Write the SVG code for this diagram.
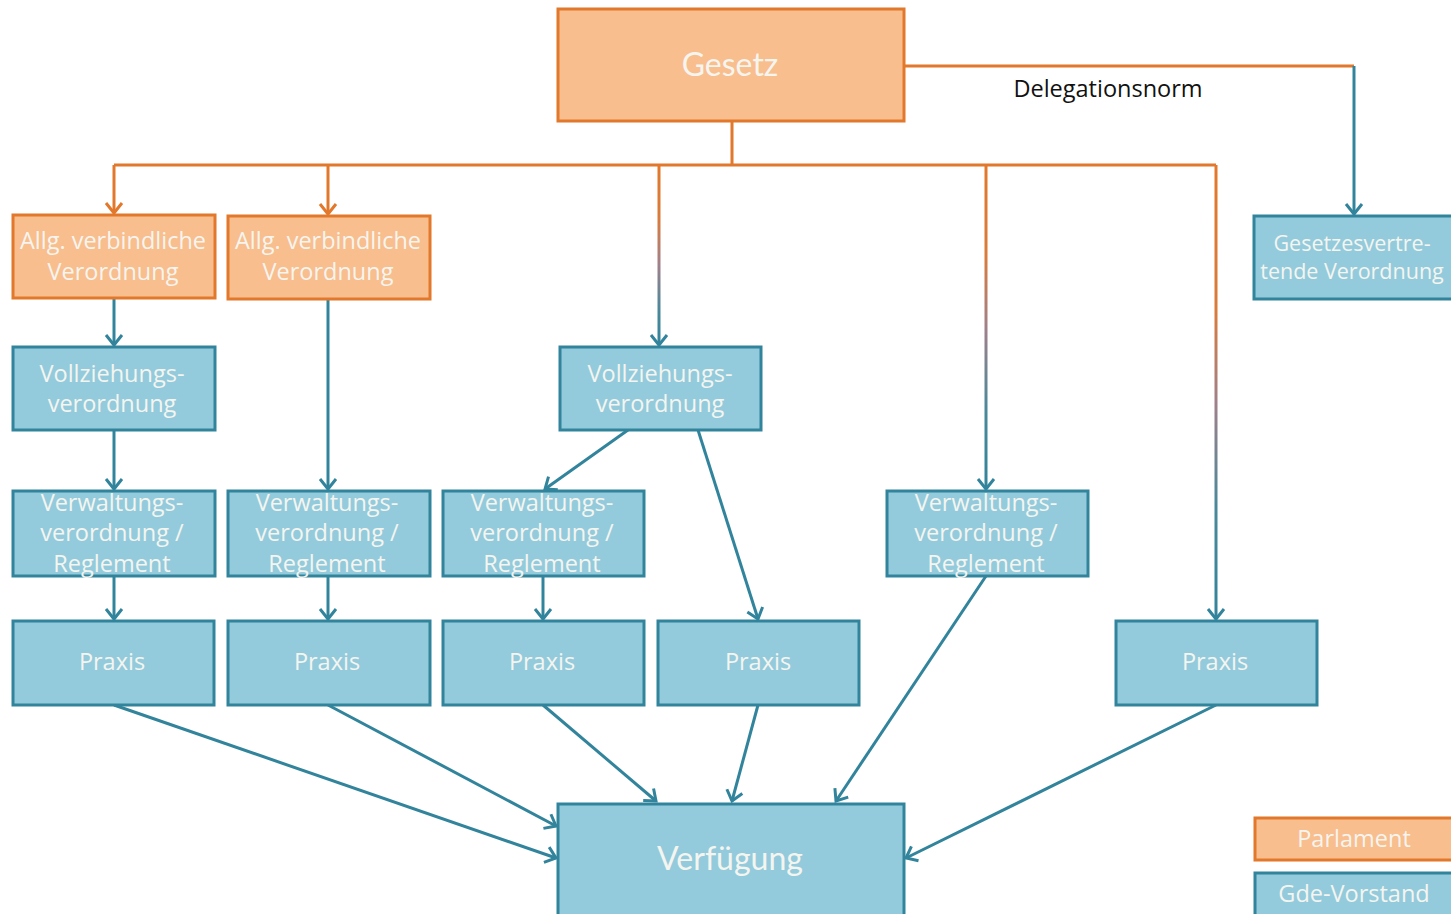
<svg xmlns="http://www.w3.org/2000/svg" width="1451" height="914" viewBox="0 0 1451 914">
<defs>
<style>
.o{fill:#F9BE8D;stroke:#E2782B;stroke-width:3}
.b{fill:#93CBDC;stroke:#31849B;stroke-width:3}
.t{font-family:"Open Sans",Lato,sans-serif;font-size:23.5px;fill:#F5F5F0;text-anchor:middle}
.big{font-family:Lato,"Open Sans",sans-serif;font-size:32px}
.sm{font-size:21.5px}
.lo{fill:none;stroke:#E2782B;stroke-width:3}
.lb{fill:none;stroke:#31849B;stroke-width:3}
</style>
<marker id="ao" markerUnits="userSpaceOnUse" markerWidth="24" markerHeight="24" viewBox="-12 -12 24 24" refX="0" refY="0" orient="auto">
<path d="M-10,-8 L0,0 L-10,8" fill="none" stroke="#E2782B" stroke-width="3"/>
</marker>
<marker id="ab" markerUnits="userSpaceOnUse" markerWidth="24" markerHeight="24" viewBox="-12 -12 24 24" refX="0" refY="0" orient="auto">
<path d="M-10,-8 L0,0 L-10,8" fill="none" stroke="#31849B" stroke-width="3"/>
</marker>
<linearGradient id="g1" gradientUnits="userSpaceOnUse" x1="0" y1="165" x2="0" y2="346">
<stop offset="0" stop-color="#E2782B"/><stop offset="0.3" stop-color="#D97B3C"/><stop offset="0.55" stop-color="#A0808A"/><stop offset="0.8" stop-color="#4A889A"/><stop offset="1" stop-color="#31849B"/>
</linearGradient>
<linearGradient id="g2" gradientUnits="userSpaceOnUse" x1="0" y1="165" x2="0" y2="491">
<stop offset="0" stop-color="#E2782B"/><stop offset="0.28" stop-color="#D97B3C"/><stop offset="0.5" stop-color="#A0808A"/><stop offset="0.75" stop-color="#4A889A"/><stop offset="1" stop-color="#31849B"/>
</linearGradient>
<linearGradient id="g3" gradientUnits="userSpaceOnUse" x1="0" y1="165" x2="0" y2="621">
<stop offset="0" stop-color="#E2782B"/><stop offset="0.32" stop-color="#D97B3C"/><stop offset="0.52" stop-color="#A0808A"/><stop offset="0.75" stop-color="#4A889A"/><stop offset="1" stop-color="#31849B"/>
</linearGradient>
</defs>
<rect width="1451" height="914" fill="#FFFFFF"/>

<g id="connectors">
<path class="lo" d="M732,121 V165 M114,165 H1216"/>
<path class="lo" d="M114,165 V213" marker-end="url(#ao)"/>
<path class="lo" d="M328,165 V214" marker-end="url(#ao)"/>
<path class="lo" d="M904,66 H1354"/>
<path class="lb" d="M1354,66 V214" marker-end="url(#ab)"/>
<path fill="none" stroke="url(#g1)" stroke-width="3" d="M659,165 V345" marker-end="url(#ab)"/>
<path fill="none" stroke="url(#g2)" stroke-width="3" d="M986,165 V489" marker-end="url(#ab)"/>
<path fill="none" stroke="url(#g3)" stroke-width="3" d="M1216,165 V619" marker-end="url(#ab)"/>
<path class="lb" d="M114,298 V345" marker-end="url(#ab)"/>
<path class="lb" d="M114,430 V489" marker-end="url(#ab)"/>
<path class="lb" d="M328,299 V489" marker-end="url(#ab)"/>
<path class="lb" d="M628,430 L545,489" marker-end="url(#ab)"/>
<path class="lb" d="M698,430 L758,619" marker-end="url(#ab)"/>
<path class="lb" d="M114,576 V619" marker-end="url(#ab)"/>
<path class="lb" d="M328,576 V619" marker-end="url(#ab)"/>
<path class="lb" d="M543,576 V619" marker-end="url(#ab)"/>
<path class="lb" d="M986,576 L836,801" marker-end="url(#ab)"/>
<path class="lb" d="M114,705 L556,858" marker-end="url(#ab)"/>
<path class="lb" d="M328,705 L556,826" marker-end="url(#ab)"/>
<path class="lb" d="M543,705 L656,801" marker-end="url(#ab)"/>
<path class="lb" d="M758,705 L732,801" marker-end="url(#ab)"/>
<path class="lb" d="M1216,705 L906,858" marker-end="url(#ab)"/>
</g>

<g id="gesetz"><rect class="o" x="558" y="9" width="346" height="112"/><text class="t big" x="730" y="76">Gesetz</text></g>
<g id="delegationsnorm"><text x="1108" y="97" font-family="'Open Sans',Lato,sans-serif" font-size="23.5" fill="#111" text-anchor="middle">Delegationsnorm</text></g>

<g id="allg1"><rect class="o" x="13" y="215" width="202" height="83"/><text class="t" x="113" y="249">Allg. verbindliche</text><text class="t" x="113" y="280">Verordnung</text></g>
<g id="allg2"><rect class="o" x="228" y="216" width="202" height="83"/><text class="t" x="328" y="249">Allg. verbindliche</text><text class="t" x="328" y="280">Verordnung</text></g>
<g id="gesetzesvertretende"><rect class="b" x="1254" y="216" width="200" height="83"/><text class="t sm" x="1352" y="251">Gesetzesvertre-</text><text class="t sm" x="1352" y="279">tende Verordnung</text></g>

<g id="vollz1"><rect class="b" x="13" y="347" width="202" height="83"/><text class="t" x="112" y="382">Vollziehungs-</text><text class="t" x="112" y="412">verordnung</text></g>
<g id="vollz2"><rect class="b" x="560" y="347" width="201" height="83"/><text class="t" x="660" y="382">Vollziehungs-</text><text class="t" x="660" y="412">verordnung</text></g>

<g id="verw1"><rect class="b" x="13" y="491" width="202" height="85"/><text class="t" x="112" y="511">Verwaltungs-</text><text class="t" x="112" y="541">verordnung /</text><text class="t" x="112" y="572">Reglement</text></g>
<g id="verw2"><rect class="b" x="228" y="491" width="202" height="85"/><text class="t" x="327" y="511">Verwaltungs-</text><text class="t" x="327" y="541">verordnung /</text><text class="t" x="327" y="572">Reglement</text></g>
<g id="verw3"><rect class="b" x="443" y="491" width="201" height="85"/><text class="t" x="542" y="511">Verwaltungs-</text><text class="t" x="542" y="541">verordnung /</text><text class="t" x="542" y="572">Reglement</text></g>
<g id="verw4"><rect class="b" x="887" y="491" width="201" height="85"/><text class="t" x="986" y="511">Verwaltungs-</text><text class="t" x="986" y="541">verordnung /</text><text class="t" x="986" y="572">Reglement</text></g>

<g id="praxis1"><rect class="b" x="13" y="621" width="201" height="84"/><text class="t" x="112" y="670">Praxis</text></g>
<g id="praxis2"><rect class="b" x="228" y="621" width="202" height="84"/><text class="t" x="327" y="670">Praxis</text></g>
<g id="praxis3"><rect class="b" x="443" y="621" width="201" height="84"/><text class="t" x="542" y="670">Praxis</text></g>
<g id="praxis4"><rect class="b" x="658" y="621" width="201" height="84"/><text class="t" x="758" y="670">Praxis</text></g>
<g id="praxis5"><rect class="b" x="1116" y="621" width="201" height="84"/><text class="t" x="1215" y="670">Praxis</text></g>

<g id="verfuegung"><rect class="b" x="558" y="804" width="346" height="112"/><text class="t big" x="730" y="870">Verfügung</text></g>

<g id="legend-parlament"><rect class="o" x="1255" y="818" width="200" height="42"/><text class="t" x="1354" y="847">Parlament</text></g>
<g id="legend-gde"><rect class="b" x="1255" y="873" width="200" height="44"/><text class="t" x="1354" y="902">Gde-Vorstand</text></g>
</svg>
